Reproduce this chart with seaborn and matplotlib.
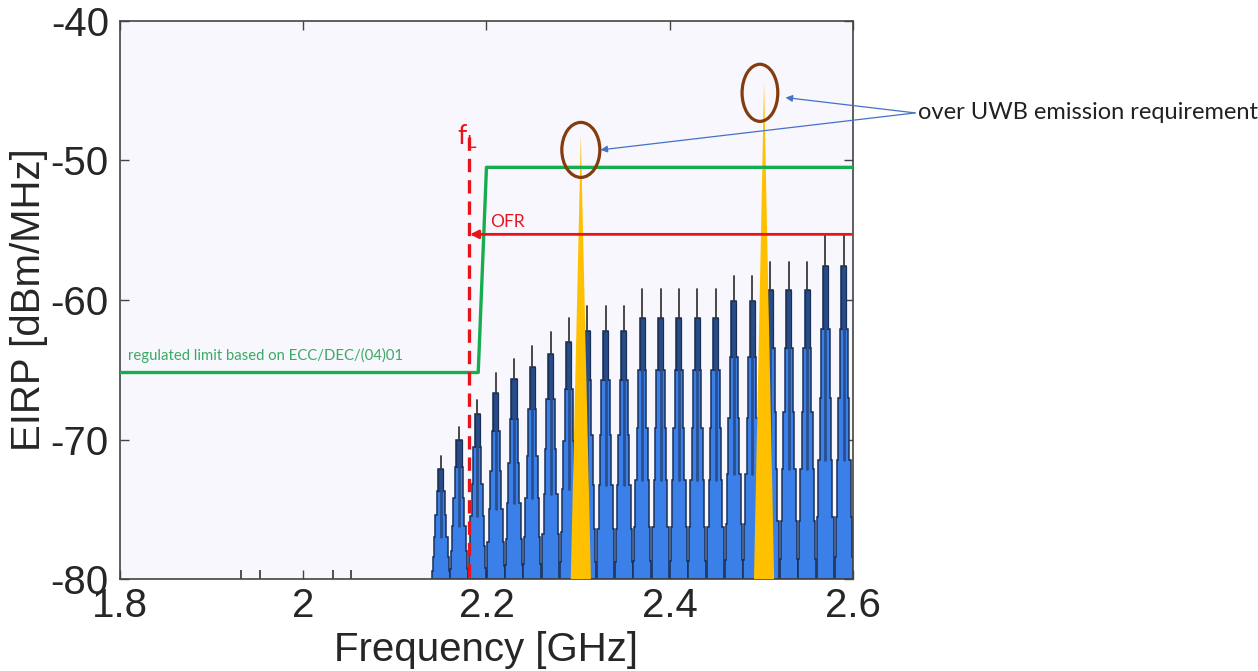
import matplotlib
matplotlib.use('Agg')
import matplotlib.pyplot as plt
from matplotlib.patches import Ellipse
import seaborn as sns
import pandas as pd

# comb lines of the UWB spectrum (GHz) and their levels (dBm/MHz)
lobe_f = [2.15, 2.17, 2.19, 2.21, 2.23, 2.25, 2.27, 2.29, 2.31, 2.33, 2.35, 2.37,
          2.39, 2.41, 2.43, 2.45, 2.47, 2.49, 2.51, 2.53, 2.55, 2.57, 2.59]
lobe_peak = [-71.2, -69.1, -67.2, -65.2, -64.2, -63.3, -62.3, -61.3, -60.4, -60.4, -60.4, -59.2,
             -59.2, -59.2, -59.2, -59.2, -58.3, -58.3, -57.3, -57.3, -57.3, -55.3, -55.3]
lobe_top = [-72.1, -70.0, -68.2, -66.7, -65.7, -64.8, -63.9, -63.0, -62.2, -62.2, -62.2, -61.3,
            -61.3, -61.3, -61.3, -61.3, -60.1, -60.1, -59.3, -59.3, -59.3, -57.6, -57.6]
# stepped lobe outline: fraction of the way down to the floor, half width (GHz)
step_frac = [0.0, 0.2, 0.42, 0.62, 0.8, 0.93, 1.0]
step_hw = [0.0028, 0.0045, 0.0060, 0.0076, 0.0089, 0.0097]

# small spurs below the band
spur_f = [1.932, 1.953, 2.032, 2.052]
spur_db = [-79.35, -79.35, -79.35, -79.35]

# spurious emissions over the limit
spike_f = [2.303, 2.503]
spike_db = [-48.2, -44.4]
spike_hw = 0.011

# regulated limit
limit_f = [1.8, 2.191, 2.2, 2.6]
limit_db = [-65.2, -65.2, -50.5, -50.5]

f_L = 2.181
ofr_db = -55.3
floor_db = -80

xticks = [1.8, 2.0, 2.2, 2.4, 2.6]
xticklabels = ['1.8', '2', '2.2', '2.4', '2.6']
yticks = [-80, -70, -60, -50, -40]

sns.set_style('ticks')
plt.rcParams['font.family'] = ['Liberation Sans', 'DejaVu Sans']
plt.rcParams['axes.unicode_minus'] = False
ann_font = ['Lato', 'DejaVu Sans']

fig = plt.figure(figsize=(12.58, 6.71), dpi=100)
ax = fig.add_axes([0.0954, 0.137, 0.5826, 0.832])
ax.set_facecolor('#f7f7fd')

# spectrum lobes
for f, pk, top in zip(lobe_f, lobe_peak, lobe_top):
    lv = [top + fr * (floor_db - top) for fr in step_frac]
    xs, ys = [f - step_hw[-1]], [floor_db]
    for j in range(len(step_hw) - 1, -1, -1):
        xs += [f - step_hw[j], f - step_hw[j]]
        ys += [lv[j + 1], lv[j]]
    for j in range(len(step_hw)):
        xs += [f + step_hw[j], f + step_hw[j]]
        ys += [lv[j], lv[j + 1]]
    ax.fill(xs, ys, color='#3a80e8', ec='#1a3058', lw=1.1, zorder=2)
    # darker core
    ax.fill([f - step_hw[0], f - step_hw[0], f + step_hw[0], f + step_hw[0]],
            [lv[1], lv[0], lv[0], lv[1]], color='#284c88', ec='#1a3058', lw=0.9, zorder=2)
    ax.plot([f, f], [lv[1], lv[3]], color='#2a4f8c', lw=2.0, zorder=2)
    ax.plot([f, f], [top, pk], color='#3a3a3a', lw=1.3, zorder=2)

ax.vlines(spur_f, floor_db, spur_db, color='#333333', lw=1.2, zorder=2)

# yellow spikes
for f, pk in zip(spike_f, spike_db):
    ax.fill([f - spike_hw, f, f + spike_hw], [floor_db, pk, floor_db],
            color='#ffc000', lw=0, zorder=3)

# regulated limit
lim = pd.DataFrame({'f': limit_f, 'db': limit_db})
sns.lineplot(data=lim, x='f', y='db', color='#16ad4e', lw=2.4, sort=False, ax=ax, zorder=4)
ax.text(1.8087, -64.0, 'regulated limit based on ECC/DEC/(04)01', color='#3aaa63',
        fontsize=10.7, family=ann_font, va='center', ha='left', zorder=5)

# f_L marker
ax.plot([f_L, f_L], [-48.3, -80.45], color='#e8141c', lw=2.4, ls=(0, (4, 2.4)),
        clip_on=False, zorder=5)
ax.text(f_L - 0.002, -48.9, r'$\mathregular{f_L}$', color='#e8141c', fontsize=19,
        family=ann_font, ha='center', va='baseline', zorder=5)

# OFR arrow
ax.annotate('', xy=(f_L + 0.001, ofr_db), xytext=(2.598, ofr_db),
            arrowprops=dict(arrowstyle='-|>', color='#e8141c', lw=2.0,
                            mutation_scale=12, shrinkA=0, shrinkB=0), zorder=5)
ax.text(2.2035, -54.45, 'OFR', color='#e8141c', fontsize=12.5, family=ann_font,
        va='center', ha='left', zorder=5)

# ellipses round the violating spikes
ax.add_patch(Ellipse((2.303, -49.25), 0.0415, 3.94, fill=False, ec='#843c0c', lw=2.3, zorder=6))
ax.add_patch(Ellipse((2.4985, -45.16), 0.039, 4.09, fill=False, ec='#843c0c', lw=2.3, zorder=6))

for xy in [(2.3245, -49.25), (2.5265, -45.5)]:
    ax.annotate('', xy=xy, xytext=(2.668, -46.6), annotation_clip=False,
                arrowprops=dict(arrowstyle='-|>', color='#4472c4', lw=0.9,
                                mutation_scale=10, shrinkA=0, shrinkB=0))
ax.text(2.6715, -46.6, 'over UWB emission requirement', color='#222222', fontsize=17,
        family=ann_font, va='center', ha='left', clip_on=False)

ax.set_xlim(1.8, 2.6)
ax.set_ylim(-80, -40)
ax.set_xticks(xticks)
ax.set_xticklabels(xticklabels)
ax.set_yticks(yticks)
ax.tick_params(direction='in', length=6.5, width=1.0, labelsize=29, color='#444444',
               top=True, right=True, pad=8)
ax.tick_params(axis='x', pad=6)
for s in ax.spines.values():
    s.set_color('#444444')
    s.set_linewidth(1.2)
    s.set_visible(True)
ax.set_xlabel('Frequency [GHz]', fontsize=29)
ax.set_ylabel('EIRP [dBm/MHz]', fontsize=29)
ax.xaxis.set_label_coords(0.5, -0.093)
ax.yaxis.set_label_coords(-0.098, 0.5)

fig.savefig('out.png', dpi=100)
